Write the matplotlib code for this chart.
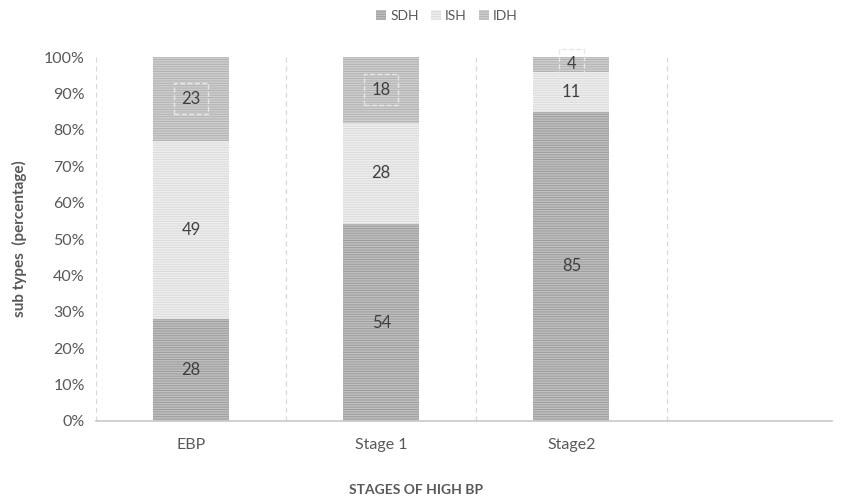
import matplotlib
matplotlib.use("Agg")
import matplotlib.pyplot as plt
from matplotlib.ticker import PercentFormatter

categories = ["EBP", "Stage 1", "Stage2", ""]
sdh = [28, 54, 85, 0]
ish = [49, 28, 11, 0]
idh = [23, 18, 4, 0]
series_names = ["SDH", "ISH", "IDH"]

plt.rcParams['font.family'] = ['Lato', 'DejaVu Sans']
plt.rcParams['hatch.linewidth'] = 1.0

fig = plt.figure(figsize=(8.45, 4.98), dpi=100)
ax = fig.add_axes([96/845, 1-421/498, (832-96)/845, (421-57)/498])

x = list(range(len(categories)))
faces = ["#9c9c9c", "#dadada", "#b1b1b1"]
hatchc = ["#c0c0c0", "#efefef", "#cfcfcf"]
data = [sdh, ish, idh]
bottoms = [0]*len(x)
width = 0.4
for name, vals, fc, hc in zip(series_names, data, faces, hatchc):
    bars = ax.bar(x, vals, width, bottom=bottoms, color=fc, edgecolor=hc,
                  hatch='-------', linewidth=0, label=name)
    for xi, v, b in zip(x, vals, bottoms):
        if v > 0:
            boxed = (name == "IDH")
            kw = {}
            if boxed:
                kw['bbox'] = dict(boxstyle='square,pad=0.45', facecolor='none',
                                  edgecolor='#e6e6e6', linestyle='--', linewidth=1)
            ax.text(xi, b + v/2, str(v), ha='center', va='center',
                    fontsize=12, color='#404040', **kw)
    bottoms = [b + v for b, v in zip(bottoms, vals)]

ax.set_xlim(-0.5, 3.37)
ax.set_ylim(0, 100)
ax.set_yticks(range(0, 101, 10))
ax.yaxis.set_major_formatter(PercentFormatter(decimals=0))
ax.set_xticks(x[:3])
ax.set_xticklabels(categories[:3])
for xv in [-0.5, 0.5, 1.5, 2.5]:
    ax.axvline(xv, color='#d9d9d9', linestyle=(0, (4, 3)), linewidth=0.9, zorder=0)

for s in ['top', 'right', 'left']:
    ax.spines[s].set_visible(False)
ax.spines['bottom'].set_color('#c8c8c8')
ax.spines['bottom'].set_linewidth(1.2)
ax.tick_params(axis='both', length=0, colors='#595959', labelsize=11.5)
ax.tick_params(axis='x', pad=12)
ax.tick_params(axis='y', pad=8)

ax.set_ylabel("sub types  (percentage)", fontsize=11, fontweight='bold', color='#595959', labelpad=12)
fig.text(416/845, 1-490/498, "STAGES OF HIGH BP", ha='center', va='center',
         fontsize=10, fontweight='bold', color='#595959')

leg = fig.legend(loc='center', bbox_to_anchor=(447/845, 1-16/498), ncol=3, frameon=False,
                 fontsize=10, handlelength=0.7, handleheight=0.7, handletextpad=0.3,
                 columnspacing=0.9, labelcolor='#595959')

fig.savefig("out.png", dpi=100)
